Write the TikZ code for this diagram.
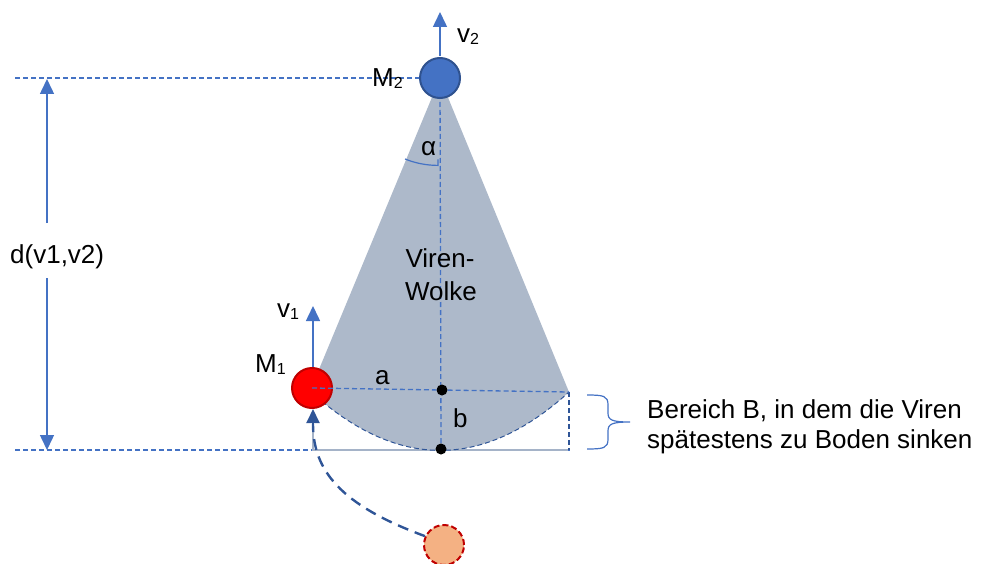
\documentclass[tikz,border=0pt]{standalone}
\usepackage{fontspec}
\setmainfont{Liberation Sans}
\usetikzlibrary{arrows.meta}
\definecolor{vblue}{HTML}{4472C4}
\definecolor{vdark}{HTML}{2F528F}
\definecolor{vnavy}{HTML}{2F5597}
\definecolor{vcone}{HTML}{ADB9CA}
\definecolor{vred}{HTML}{FF0000}
\definecolor{vdred}{HTML}{C00000}
\definecolor{vpeach}{HTML}{F4B183}
\definecolor{vgray}{HTML}{A5B3C8}
\newcommand\mysub[1]{\raisebox{-2pt}{\fontsize{16}{16}\selectfont #1}}
\begin{document}
\begin{tikzpicture}[x=1pt,y=-1pt,
  lbl/.style={font=\fontsize{26}{30}\selectfont, inner sep=0pt, anchor=base west},
  guide/.style={draw=vblue, line width=1.1pt, dash pattern=on 5pt off 3pt},
  fineguide/.style={draw=vblue, line width=1.3pt, dash pattern=on 5pt off 3pt},
  velarrow/.style={draw=vblue, line width=1.5pt, -{Triangle[length=15pt,width=14pt]}},
  dot/.style={circle, fill=black, inner sep=0pt, minimum size=11pt},
  mass/.style={circle, line width=2pt, minimum size=40pt, inner sep=0pt},
]
\useasboundingbox (0,0) rectangle (981,564);

% coordinates
\coordinate (apex) at (440,78);
\coordinate (cl) at (310,391);
\coordinate (cr) at (569,392);
\coordinate (bot) at (441,449);

% cone
\fill[vcone] (apex) -- (cl) .. controls (397,470) and (483,470) .. (cr) -- cycle;

% guide lines
\coordinate (tl) at (15,78);
\coordinate (bl) at (15,450);
\coordinate (br) at (570,450);
\draw[guide] (tl) -- (apex);
\draw[guide] (bl) -- (br);

% rectangle region
\coordinate (rl) at (313,420);
\coordinate (rb) at (313,450);
\coordinate (rr) at (568,450);
\draw[vgray, line width=2.2pt] (rl) -- (rb) -- (rr);
\draw[fineguide, draw=vnavy, line width=1.2pt] (cr) -- (569,450);

% bottom curve of cloud
\draw[fineguide, draw=vnavy, line width=1pt] (cl) .. controls (397,470) and (483,470) .. (cr);

% center line
\draw[fineguide] (apex) -- (bot);

% alpha arc
\draw[vblue, line width=1.2pt] (405,159) arc[start angle=112, end angle=90, radius=88] -- ++(0,-6);

% masses
\node[mass, fill=vblue, draw=vdark] (M2) at (apex) {};
\node[mass, fill=vred, draw=vdred] (M1) at (312,388) {};
\node[mass, fill=vpeach, draw=vdred, dash pattern=on 6pt off 3pt] (M0) at (444,545) {};

% dots and a-line
\node[dot] (da) at (442,390) {};
\node[dot] (db) at (bot) {};
\draw[fineguide] (M1.center) -- (da) -- (cr);

% velocity arrows
\coordinate (v2s) at (440,56);
\coordinate (v2e) at (440,12);
\draw[velarrow] (v2s) -- (v2e);
\coordinate (v1s) at (313,367);
\coordinate (v1e) at (313,306);
\draw[velarrow] (v1s) -- (v1e);

% distance arrows
\coordinate (du1) at (47,223);
\coordinate (du2) at (47,79);
\coordinate (dd1) at (47,278);
\coordinate (dd2) at (47,450);
\draw[velarrow] (du1) -- (du2);
\draw[velarrow] (dd1) -- (dd2);

% movement path
\coordinate (mtip) at (313,409);
\draw[vnavy, line width=2.4pt, dash pattern=on 11pt off 7pt] (M0.155) .. controls (340,505) and (313,470) .. (313,424);
\draw[vnavy, line width=2pt, -{Triangle[length=14pt,width=13pt]}] (313,426) -- (mtip);

% brace
\draw[vblue, line width=1.2pt] (587,395) .. controls (604,395) and (608,396) .. (608,405)
  -- (608,413) .. controls (608,420) and (612,422) .. (630,422)
  .. controls (612,422) and (608,424) .. (608,431)
  -- (608,439) .. controls (608,448) and (604,449) .. (587,449);

% labels
\node[lbl] (lv2) at (457,43) {v\mysub{2}};
\node[lbl] (lM2) at (372,87) {M\mysub{2}};
\node[lbl] (lv1) at (277,317) {v\mysub{1}};
\node[lbl] (lM1) at (255,372) {M\mysub{1}};
\node[lbl] (la) at (375,384) {a};
\node[lbl] (lb) at (453,427) {b};
\node[lbl] (lal) at (421,156) {α};
\node[lbl] (ld) at (10,263) {d(v1,v2)};
\node[lbl, anchor=base] (lw1) at (440,267) {Viren-};
\node[lbl, anchor=base] (lw2) at (441,300) {Wolke};
\node[lbl] (lB1) at (647,418) {Bereich B, in dem die Viren};
\node[lbl] (lB2) at (647,448) {spätestens zu Boden sinken};
\end{tikzpicture}
\end{document}
